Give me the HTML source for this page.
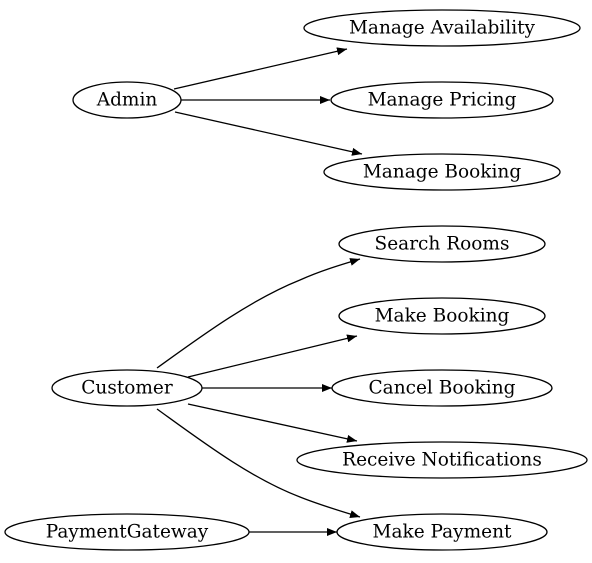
<!DOCTYPE html>
<html><head><meta charset="utf-8"><style>
html,body{margin:0;padding:0;background:#fff;}
svg{display:block;}
text{font-family:"DejaVu Serif","Liberation Serif",serif;font-size:18.5px;fill:#000;text-anchor:middle;dominant-baseline:central;}
ellipse{fill:none;stroke:#000;stroke-width:1.3;}
path,line{fill:none;stroke:#000;stroke-width:1.3;}
</style></head><body>
<svg width="592" height="563" viewBox="0 0 592 563" xmlns="http://www.w3.org/2000/svg">
<defs>
<marker id="a" markerWidth="10" markerHeight="8" refX="10" refY="4" orient="auto" markerUnits="userSpaceOnUse">
<polygon points="0,0 10,4 0,8" fill="#000"/>
</marker>
</defs>
<ellipse cx="442" cy="28" rx="138" ry="18"/><text x="442" y="28">Manage Availability</text>
<ellipse cx="442" cy="100" rx="111" ry="18"/><text x="442" y="100">Manage Pricing</text>
<ellipse cx="442" cy="172" rx="118" ry="18"/><text x="442" y="172">Manage Booking</text>
<ellipse cx="127" cy="100" rx="54" ry="18"/><text x="127" y="100">Admin</text>
<ellipse cx="442" cy="244" rx="103" ry="18"/><text x="442" y="244">Search Rooms</text>
<ellipse cx="442" cy="316" rx="103" ry="18"/><text x="442" y="316">Make Booking</text>
<ellipse cx="442" cy="388" rx="110" ry="18"/><text x="442" y="388">Cancel Booking</text>
<ellipse cx="442" cy="460" rx="145" ry="18"/><text x="442" y="460">Receive Notifications</text>
<ellipse cx="442" cy="532" rx="105" ry="18"/><text x="442" y="532">Make Payment</text>
<ellipse cx="127" cy="388" rx="75" ry="18"/><text x="127" y="388">Customer</text>
<ellipse cx="127" cy="532" rx="122" ry="18"/><text x="127" y="532">PaymentGateway</text>

<line x1="174" y1="89" x2="347" y2="49" marker-end="url(#a)"/>
<line x1="181" y1="100" x2="330" y2="100" marker-end="url(#a)"/>
<line x1="175" y1="112" x2="362" y2="154" marker-end="url(#a)"/>
<path d="M157,368 C200,337 250,300 300,280 C320,271 340,265 360,259" marker-end="url(#a)"/>
<line x1="188" y1="377" x2="357" y2="336" marker-end="url(#a)"/>
<line x1="202" y1="388" x2="332" y2="388" marker-end="url(#a)"/>
<line x1="188" y1="404" x2="357" y2="441" marker-end="url(#a)"/>
<path d="M157,409 C200,440 250,478 300,497 C320,505 340,511 360,517" marker-end="url(#a)"/>
<line x1="249" y1="532" x2="337" y2="532" marker-end="url(#a)"/>
</svg>
</body></html>
